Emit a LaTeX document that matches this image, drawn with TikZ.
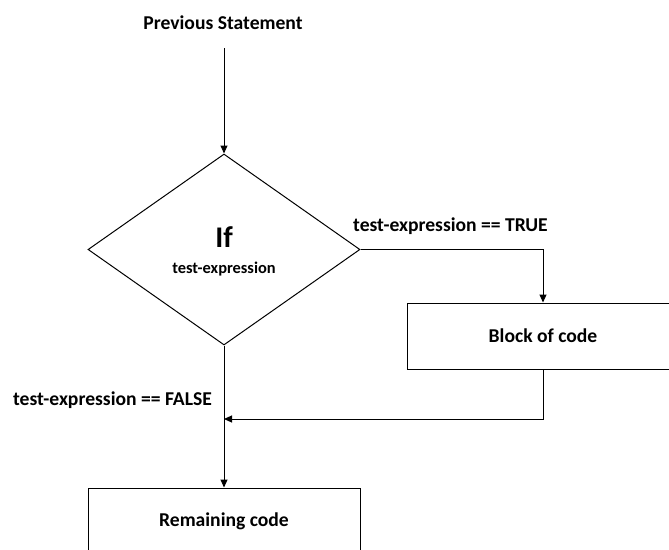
\documentclass[tikz,border=0pt]{standalone}
\usepackage{fontspec}
\setmainfont{Carlito}
\usetikzlibrary{arrows.meta, shapes.geometric, positioning, calc}

\begin{document}
\begin{tikzpicture}[x=1pt, y=-1pt,
	txt/.style={font=\fontsize{19.6}{22}\selectfont\bfseries, inner sep=0pt},
	caja/.style={draw, line width=1pt, minimum width=272pt, minimum height=66pt,
		inner sep=0pt, font=\fontsize{19.6}{22}\selectfont\bfseries},
	rombo/.style={draw, diamond, line width=1pt, aspect=1.42, minimum width=272pt,
		minimum height=191pt, inner sep=0pt, align=center},
	flecha/.style={line width=1pt, -{Triangle[length=8pt, width=7pt]}},
	linea/.style={line width=1pt}]

	\useasboundingbox (0,0) rectangle (669,549);

	\node[txt] (prev) at (223,23) {Previous Statement};
	\coordinate (prevout) at (224,48);

	\node[rombo] (cond) at (224,249.5) {};
	\node[font=\fontsize{30}{30}\selectfont\bfseries, inner sep=0pt] (ifword)
		at (224,237) {If};
	\node[font=\fontsize{16.4}{18}\selectfont\bfseries, inner sep=0pt] (expr)
		at (224,269) {test-expression};

	\node[caja] (block) at (543,336) {Block of code};
	\node[caja] (rest) at (224,521) {Remaining code};
	\coordinate (join) at (224,419);

	% ramas del if
	\node[txt, anchor=west] (truelbl) at (353,226) {test-expression == TRUE};
	\node[txt] (falselbl) at (112.5,400) {test-expression == FALSE};

	\draw[flecha] (prevout) -- (cond.north);
	\draw[flecha] (cond.east) -| (block.north);
	\draw[flecha] (block.south) |- (join);
	\draw[flecha] (cond.south) -- (rest.north);
\end{tikzpicture}
\end{document}
